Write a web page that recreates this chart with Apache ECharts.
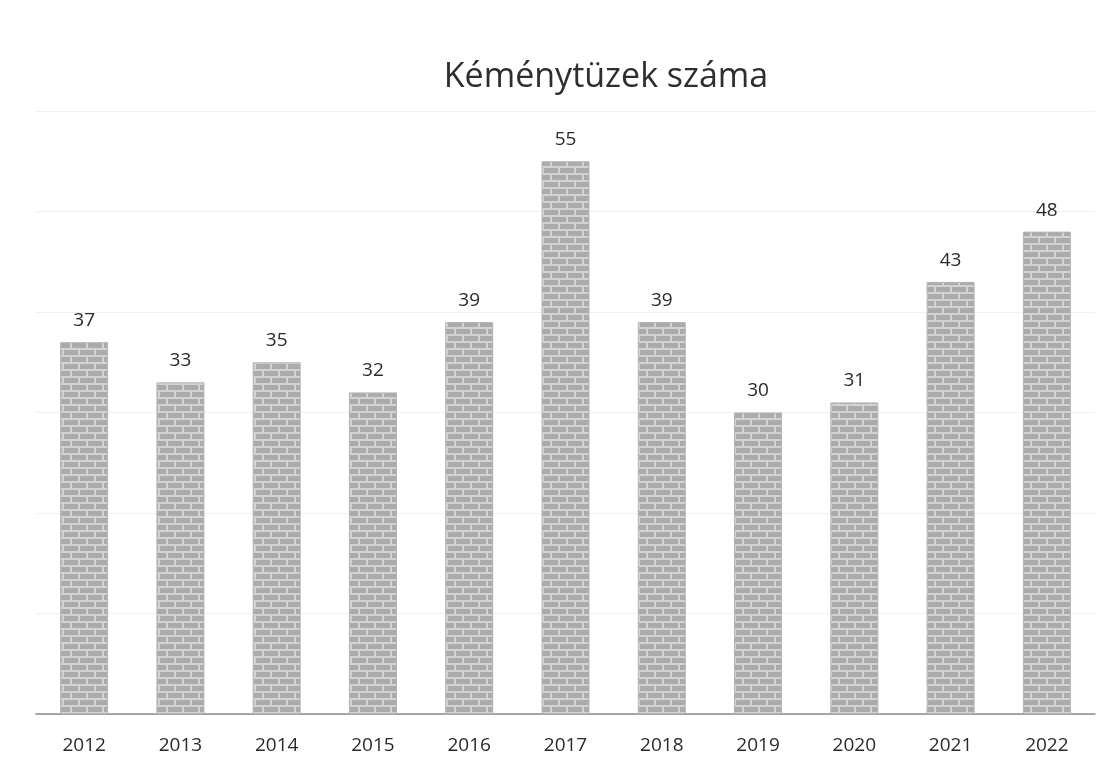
<!DOCTYPE html>
<html>
<head>
<meta charset="utf-8">
<script src="https://cdn.jsdelivr.net/npm/echarts@6/dist/echarts.min.js"></script>
<style>
  html, body { margin: 0; padding: 0; background: #fff; }
  #chart { width: 1112px; height: 773px; }
</style>
</head>
<body>
<div id="chart"></div>
<script>
const years = ["2012", "2013", "2014", "2015", "2016", "2017", "2018", "2019", "2020", "2021", "2022"];
const fires = [37, 33, 35, 32, 39, 55, 39, 30, 31, 43, 48];

// brick texture for the bars
function brickPattern() {
  const c = document.createElement("canvas");
  c.width = 16;
  c.height = 14;
  const ctx = c.getContext("2d");
  ctx.fillStyle = "#d2d2d2";
  ctx.fillRect(0, 0, 16, 14);
  ctx.fillStyle = "#ababab";
  // top row
  ctx.fillRect(0, 0, 14, 5);
  // bottom row, shifted half a brick
  ctx.fillRect(0, 7, 6, 5);
  ctx.fillRect(8, 7, 8, 5);
  return c;
}

const chart = echarts.init(document.getElementById("chart"));
chart.setOption({
  animation: false,
  title: {
    text: "Kéménytüzek száma",
    left: 601,
    textAlign: "center",
    top: 55,
    textStyle: {
      fontFamily: "Open Sans",
      fontWeight: "normal",
      fontSize: 34,
      color: "#2e2e2e",
    },
  },
  grid: {
    left: 36,
    right: 17,
    top: 111,
    bottom: 59,
  },
  xAxis: {
    type: "category",
    data: years,
    axisTick: { show: false },
    axisLine: { lineStyle: { color: "#8a8a8a", width: 1.5 } },
    axisLabel: {
      margin: 22,
      fontFamily: "Open Sans",
      fontSize: 19,
      color: "#2a2a2a",
    },
  },
  yAxis: {
    type: "value",
    min: 0,
    max: 60,
    interval: 10,
    axisLabel: { show: false },
    axisLine: { show: false },
    axisTick: { show: false },
    splitLine: { lineStyle: { color: "#f0f0f0" } },
  },
  series: [
    {
      type: "bar",
      data: fires,
      barWidth: 48,
      itemStyle: {
        color: { image: brickPattern(), repeat: "repeat" },
        borderColor: "#b4b4b4",
        borderWidth: 1,
      },
      label: {
        show: true,
        position: "top",
        distance: 12,
        fontFamily: "Open Sans",
        fontSize: 19,
        color: "#2a2a2a",
      },
    },
  ],
});
</script>
</body>
</html>
